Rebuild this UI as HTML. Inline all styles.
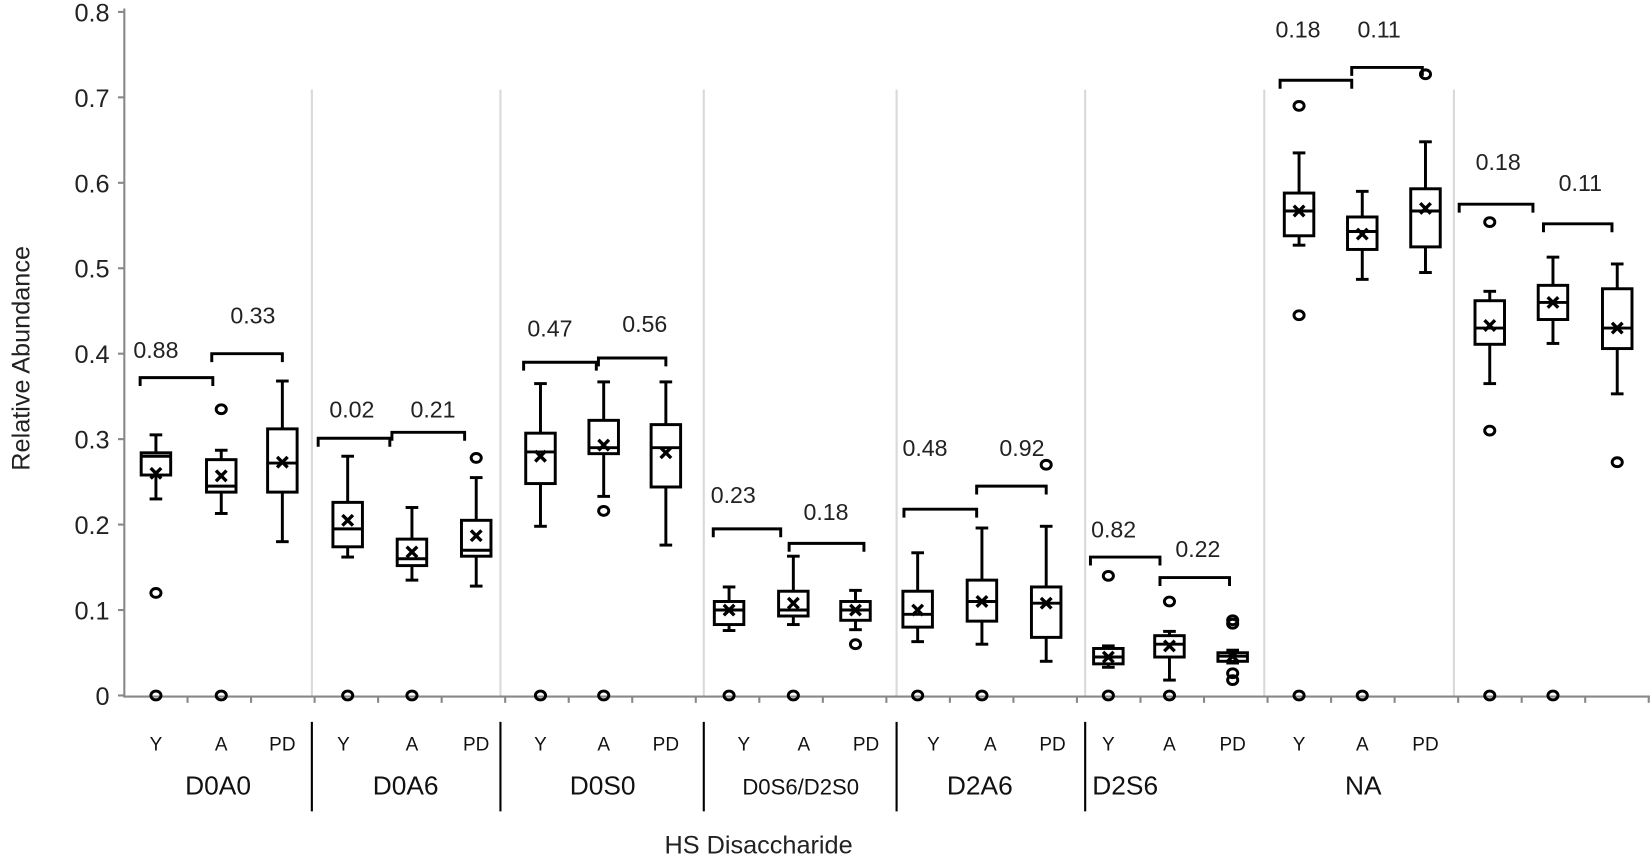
<!DOCTYPE html>
<html><head><meta charset="utf-8"><style>
html,body{margin:0;padding:0;background:#fff;}
svg{display:block;font-family:"Liberation Sans",Arial,sans-serif;}
</style></head><body>
<svg id="s" width="1652" height="861" viewBox="0 0 1568 817" xmlns="http://www.w3.org/2000/svg"></svg>
<script>
const s=document.getElementById('s');
let h='';
const Y=v=>660-811*v;
[296,475,668,851,1030,1200,1380].forEach(x=>{h+=`<line x1="${x}" y1="85" x2="${x}" y2="660" stroke="#d9d9d9" stroke-width="2"/>`;});
h+=`<line x1="118" y1="8" x2="118" y2="662" stroke="#888" stroke-width="2"/>`;
h+=`<line x1="118" y1="661" x2="1566" y2="661" stroke="#888" stroke-width="2"/>`;
for(let i=0;i<=8;i++){const y=Y(i/10);h+=`<line x1="112" y1="${y}" x2="118" y2="${y}" stroke="#888" stroke-width="2"/>`;
h+=`<text x="104" y="${y+9}" font-size="24" text-anchor="end" fill="#222">${i==0?'0':(i/10).toFixed(1)}</text>`;}
for(let x=118+60;x<1566;x+=60.3){h+=`<line x1="${x}" y1="661" x2="${x}" y2="667" stroke="#888" stroke-width="2"/>`;}
h+=`<text transform="translate(28,340) rotate(-90)" font-size="24" text-anchor="middle" fill="#222">Relative Abundance</text>`;
h+=`<text x="720" y="810" font-size="24" text-anchor="middle" fill="#222">HS Disaccharide</text>`;
[296,475,668,851,1030].forEach(x=>{h+=`<line x1="${x}" y1="685" x2="${x}" y2="770" stroke="#000" stroke-width="2"/>`;});
const groups=[["D0A0",207],["D0A6",385],["D0S0",572],["D0S6/D2S0",760],["D2A6",930],["D2S6",1068],["NA",1294]];
groups.forEach(g=>{h+=`<text x="${g[1]}" y="754" font-size="${g[0].length>5?21:25}" text-anchor="middle" fill="#111">${g[0]}</text>`;});
const lab=[[148,"Y"],[210,"A"],[268,"PD"],[326,"Y"],[391,"A"],[452,"PD"],[513,"Y"],[573,"A"],[632,"PD"],[706,"Y"],[763,"A"],[822,"PD"],[886,"Y"],[940,"A"],[999,"PD"],[1052,"Y"],[1110,"A"],[1170,"PD"],[1233,"Y"],[1293,"A"],[1353,"PD"]];
lab.forEach(l=>{h+=`<text x="${l[0]}" y="712" font-size="18" text-anchor="middle" fill="#111">${l[1]}</text>`;});
const B=[
[148,.23,.305,.258,.284,.28,.26,[.12,0]],
[210,.213,.287,.238,.276,.245,.257,[.335,0]],
[268,.18,.368,.238,.312,.272,.273,[]],
[330,.162,.28,.174,.226,.195,.205,[0]],
[391,.135,.22,.152,.183,.16,.168,[0]],
[452,.128,.255,.163,.205,.17,.187,[.278]],
[513,.198,.365,.248,.307,.285,.28,[0]],
[573,.233,.367,.283,.322,.29,.293,[.216,0]],
[632,.176,.367,.244,.317,.29,.284,[]],
[692,.076,.127,.083,.11,.1,.1,[0]],
[753,.083,.163,.093,.122,.1,.108,[0]],
[812,.077,.123,.088,.11,.1,.1,[.06]],
[871,.063,.167,.08,.122,.095,.1,[0]],
[932,.06,.196,.087,.135,.11,.11,[0]],
[993,.04,.198,.068,.127,.108,.108,[.27]],
[1052,.033,.058,.037,.055,.045,.045,[.14,0]],
[1110,.018,.075,.045,.07,.06,.058,[.11,0]],
[1170,.038,.053,.04,.05,.046,.046,[.088,.084,.018,.026]],
[1233,.527,.635,.538,.588,.567,.567,[.69,.445,0]],
[1293,.487,.59,.522,.56,.543,.54,[0]],
[1353,.495,.648,.525,.593,.567,.57,[.727]],
[1414,.365,.473,.411,.462,.43,.433,[.554,.31,0]],
[1474,.412,.513,.44,.48,.46,.46,[0]],
[1535,.353,.505,.406,.476,.43,.43,[.273]]];
const sw='stroke="#000" stroke-width="2.8" fill="none"';
B.forEach(b=>{const [x,wl,wh,q1,q3,md,mn,o]=b;const w=14;
h+=`<line x1="${x}" y1="${Y(wh)}" x2="${x}" y2="${Y(q3)}" ${sw}/><line x1="${x}" y1="${Y(q1)}" x2="${x}" y2="${Y(wl)}" ${sw}/>`;
h+=`<line x1="${x-6}" y1="${Y(wh)}" x2="${x+6}" y2="${Y(wh)}" ${sw}/><line x1="${x-6}" y1="${Y(wl)}" x2="${x+6}" y2="${Y(wl)}" ${sw}/>`;
h+=`<rect x="${x-w}" y="${Y(q3)}" width="${2*w}" height="${Y(q1)-Y(q3)}" fill="#fff" stroke="#000" stroke-width="2.8"/>`;
h+=`<line x1="${x-w}" y1="${Y(md)}" x2="${x+w}" y2="${Y(md)}" ${sw}/>`;
const m=Y(mn);h+=`<path d="M${x-5} ${m-5}L${x+5} ${m+5}M${x+5} ${m-5}L${x-5} ${m+5}" stroke="#000" stroke-width="3.2"/>`;
o.forEach(v=>{h+=`<ellipse cx="${x}" cy="${Y(v)}" rx="4.8" ry="4.2" ${sw}/>`;});
});
const K=[[133,202,.372,"0.88",148,.405],[201,268,.4,"0.33",240,.445],
[302,370,.301,"0.02",334,.335],[372,441,.308,"0.21",411,.335],
[497,566,.39,"0.47",522,.43],[568,632,.395,"0.56",612,.435],
[677,741,.195,"0.23",696,.235],[749,820,.178,"0.18",784,.215],
[858,927,.218,"0.48",878,.29],[927,993,.245,"0.92",970,.29],
[1035,1101,.162,"0.82",1057,.195],[1101,1167,.138,"0.22",1137,.172],
[1215,1283,.72,"0.18",1232,.78],[1283,1350,.735,"0.11",1309,.78],
[1385,1455,.575,"0.18",1422,.625],[1465,1530,.552,"0.11",1500,.6]];
K.forEach(k=>{const y=Y(k[2]);h+=`<path d="M${k[0]} ${y+8}V${y}H${k[1]}V${y+8}" ${sw}/>`;
h+=`<text x="${k[4]}" y="${Y(k[5])+8}" font-size="22" text-anchor="middle" fill="#222">${k[3]}</text>`;});
s.innerHTML=h;
</script>
</body></html>
